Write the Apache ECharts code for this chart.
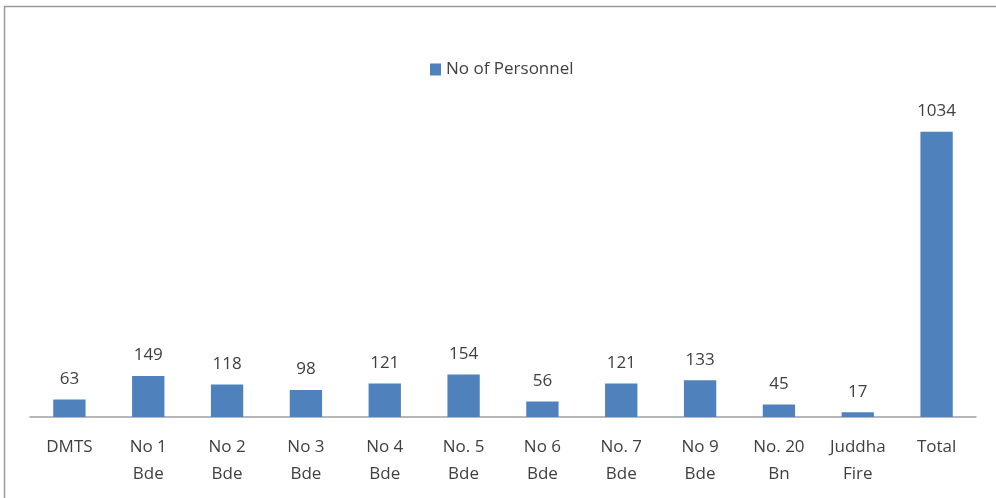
<!DOCTYPE html>
<html>
<head>
<meta charset="utf-8">
<script src="https://cdn.jsdelivr.net/npm/echarts@6/dist/echarts.min.js"></script>
<style>html,body{margin:0;padding:0;background:#fff}#c{width:996px;height:498px}</style>
</head>
<body>
<div id="c"></div>
<script>
var categories = ['DMTS', 'No 1\nBde', 'No 2\nBde', 'No 3\nBde', 'No 4\nBde', 'No. 5\nBde', 'No 6\nBde', 'No. 7\nBde', 'No 9\nBde', 'No. 20\nBn', 'Juddha\nFire', 'Total'];
var personnel = [63, 149, 118, 98, 121, 154, 56, 121, 133, 45, 17, 1034];
var seriesName = 'No of Personnel';

var chart = echarts.init(document.getElementById('c'));
chart.setOption({
  animation: false,
  textStyle: {fontFamily: 'Open Sans'},
  graphic: [{
    type: 'rect', shape: {x: 4.5, y: 6.5, width: 1000, height: 600},
    style: {fill: 'none', stroke: '#9a9a9a', lineWidth: 1.5}, silent: true
  }],
  legend: {
    data: [seriesName], left: 425, top: 56, itemWidth: 11, itemHeight: 12, itemGap: 7,
    icon: 'rect',
    textStyle: {fontSize: 17, color: '#404040', fontFamily: 'Open Sans'}
  },
  grid: {left: 30, right: 20, top: 86, bottom: 81, containLabel: false},
  xAxis: {
    type: 'category', data: categories,
    axisLine: {lineStyle: {color: '#a0a0a0', width: 1.5}},
    axisTick: {show: false},
    axisLabel: {fontSize: 17, color: '#404040', lineHeight: 27, margin: 17, interval: 0}
  },
  yAxis: {
    type: 'value', min: 0, max: 1200, interval: 200, show: false,
    splitLine: {show: false}
  },
  series: [{
    name: seriesName, type: 'bar', data: personnel, barWidth: '41%',
    itemStyle: {color: '#4f81bd'},
    label: {show: true, position: 'top', distance: 12, fontSize: 17, color: '#404040'}
  }]
});
</script>
</body>
</html>
